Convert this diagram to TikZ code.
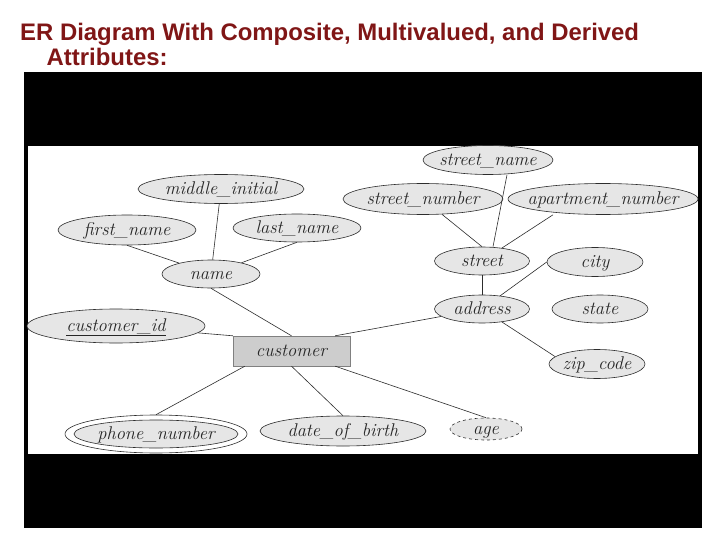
\documentclass[tikz,border=0pt]{standalone}
\usepackage{fontspec}
\newfontfamily\titlefont{Liberation Sans}
\usetikzlibrary{shapes.geometric,calc}
\definecolor{titlered}{RGB}{128,22,22}
\definecolor{ellfill}{RGB}{230,230,230}
\definecolor{entfill}{RGB}{205,205,205}
\definecolor{edgec}{RGB}{45,45,45}
\newcommand{\etxt}[1]{\smash{\makebox[0pt]{\raisebox{-0.3em}{#1}}}}
\tikzset{
  attr/.style={ellipse, draw=edgec, line width=0.6bp, fill=ellfill, inner sep=0pt,
    font=\fontsize{18.5}{20}\selectfont\itshape, text=black!85},
  ent/.style={rectangle, draw=gray, line width=0.4bp, fill=entfill, inner sep=0pt,
    font=\fontsize{18.5}{20}\selectfont\itshape, text=black!85},
  conn/.style={draw=edgec, line width=0.6bp},
  titletext/.style={anchor=base west, inner sep=0pt, text=titlered,
    font=\titlefont\bfseries\fontsize{24}{28}\selectfont},
}
\begin{document}
\begin{tikzpicture}[x=1bp,y=-1bp]
\useasboundingbox (0,0) rectangle (720,540);
\fill[white] (0,0) rectangle (720,540);
\fill[black] (24,72) rectangle (702,528);
\fill[white] (28,146) rectangle (698,454);

\node[titletext] (t1) at (20,40.5) {ER Diagram With Composite, Multivalued, and Derived};
\node[titletext] (t2) at (46.5,65.5) {Attributes:};

% attributes
\node[attr, minimum width=130bp, minimum height=29bp] (sn) at (488,160) {\etxt{street\_name}};
\node[attr, minimum width=166bp, minimum height=29bp] (mi) at (221,189) {\etxt{middle\_initial}};
\node[attr, minimum width=160bp, minimum height=31bp] (snum) at (423,199) {\etxt{street\_number}};
\node[attr, minimum width=190bp, minimum height=31bp] (apt) at (603,199) {\etxt{apartment\_number}};
\node[attr, minimum width=138bp, minimum height=30bp] (fn) at (127,230) {\etxt{first\_name}};
\node[attr, minimum width=128bp, minimum height=28bp] (ln) at (297,228) {\etxt{last\_name}};
\node[attr, minimum width=98bp, minimum height=28bp] (name) at (211,274) {\etxt{name}};
\node[attr, minimum width=95bp, minimum height=28bp] (street) at (482,261) {\etxt{street}};
\node[attr, minimum width=96bp, minimum height=29bp] (city) at (595,262) {\etxt{city}};
\node[attr, minimum width=95bp, minimum height=28bp] (address) at (482,309) {\etxt{address}};
\node[attr, minimum width=96bp, minimum height=28bp] (state) at (600,309) {\etxt{state}};
\node[attr, minimum width=178bp, minimum height=34bp] (cid) at (116,326) {\etxt{\underline{customer\_id}}};
\node[attr, minimum width=96bp, minimum height=29bp] (zip) at (597,364) {\etxt{zip\_code}};
\node[attr, fill=white, minimum width=182bp, minimum height=38bp] (phone) at (156,434) {};
\node[attr, minimum width=164bp, minimum height=28bp] (phonein) at (156,434) {\etxt{phone\_number}};
\node[attr, minimum width=166bp, minimum height=30bp] (dob) at (343,431) {\etxt{date\_of\_birth}};
\node[attr, dashed, minimum width=72bp, minimum height=22bp] (age) at (486,429) {\etxt{age}};

% entity
\node[ent, minimum width=117bp, minimum height=30bp] (cust) at (291.5,351) {\etxt{customer}};

% connectors
\draw[conn] (mi) -- (name);
\draw[conn] (fn.south) -- (name);
\draw[conn] (ln.south) -- (name);
\draw[conn] (name.south) -- (cust.north);
\draw[conn] ([xshift=19bp]sn.south) -- ([xshift=11bp]street.north);
\draw[conn] (snum) -- (street.north);
\draw[conn] ([xshift=-50bp]apt.south) -- (street);
\draw[conn] (street) -- (address);
\draw[conn] (city.west) -- (address);
\draw[conn] (address) -- (zip.170);
\draw[conn] (address) -- ([xshift=-15bp]cust.north east);
\draw[conn] (cid) -- (cust.north west);
\draw[conn] ([xshift=12bp]cust.south west) -- (phone.north);
\draw[conn] (cust.south) -- (dob.north);
\draw[conn] ([xshift=-15bp]cust.south east) -- (age.north);
\end{tikzpicture}
\end{document}
